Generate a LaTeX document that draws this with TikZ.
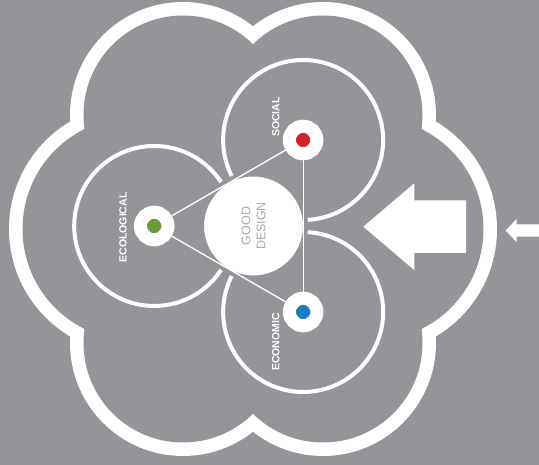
\documentclass[tikz,border=0pt]{standalone}
\usepackage{fontspec}
\setmainfont{Liberation Sans}
\usetikzlibrary{calc}

\definecolor{slate}{HTML}{939598}
\definecolor{socred}{HTML}{D2232A}
\definecolor{ecogreen}{HTML}{6A9B3B}
\definecolor{econblue}{HTML}{1B7EC2}
\definecolor{softgray}{HTML}{A7A9AC}

\newcommand{\cloudlobes}[2]{
    \foreach \cx/\cy/\r in {183/350/113, 323/350/113, 183/122/113, 323/122/113, 134/236/125, 372/236/125} {
        \fill[#2] (\cx,\cy) circle ({\r-#1});
    }
}
\newcommand{\blockarrow}[6]{
    % tip x, tip y, head length, head half width, shaft half width, tail x
    \fill[white] (#1,#2) -- ({#1+#3},{#2+#4}) -- ({#1+#3},{#2+#5}) -- (#6,{#2+#5})
        -- (#6,{#2-#5}) -- ({#1+#3},{#2-#5}) -- ({#1+#3},{#2-#4}) -- cycle;
}

\begin{document}
\begin{tikzpicture}[x=1pt, y=1pt,
    ring/.style={draw=white, line width=4pt},
    link/.style={draw=white, line width=1.3pt},
    core/.style={circle, fill=white, draw=slate, line width=5pt, minimum size=104pt,
        inner sep=0pt, rotate=90, align=center, text=softgray,
        font=\fontsize{12.5}{15}\selectfont},
    pillar/.style={circle, draw=white, line width=13pt, minimum size=27.6pt, inner sep=0pt},
    tag/.style={rotate=90, inner sep=0pt, text=white,
        font=\bfseries\fontsize{10.5}{12}\selectfont}]
    \useasboundingbox (0,0) rectangle (539,465);
    \fill[slate] (0,0) rectangle (539,465);

    % Cloud outline
    \cloudlobes{0}{white}
    \cloudlobes{13.5}{slate}
    \fill[slate] (253,236) circle (150);

    % Arrows
    \blockarrow{363.3}{238.3}{51}{43.4}{26.3}{466}
    \blockarrow{505.7}{234.5}{11}{11.7}{6.2}{545}

    % Three pillars around good design
    \coordinate (hub) at (253.5,239);
    \foreach \name/\ang in {soc/60, eco/180, econ/-60}
        \coordinate (\name-c) at ($(hub)+(\ang:99.3)$);
    \foreach \name in {soc, eco, econ}
        \draw[ring] (\name-c) circle (80);

    \node[core] (good) at (hub) {GOOD\\DESIGN};

    \node[pillar, fill=socred] (soc) at (soc-c) {};
    \node[pillar, fill=ecogreen] (eco) at (eco-c) {};
    \node[pillar, fill=econblue] (econ) at (econ-c) {};

    \draw[link] (eco) -- (soc);
    \draw[link] (eco) -- (econ);
    \draw[link] (soc) -- (econ);

    % Labels
    \node[tag] (soc-tag) at ($(soc)+(-27.4,23)$) {SOCIAL};
    \node[tag] (eco-tag) at ($(eco)+(-31.2,-1.5)$) {ECOLOGICAL};
    \node[tag] (econ-tag) at ($(econ)+(-27.4,-30)$) {ECONOMIC};
\end{tikzpicture}
\end{document}
